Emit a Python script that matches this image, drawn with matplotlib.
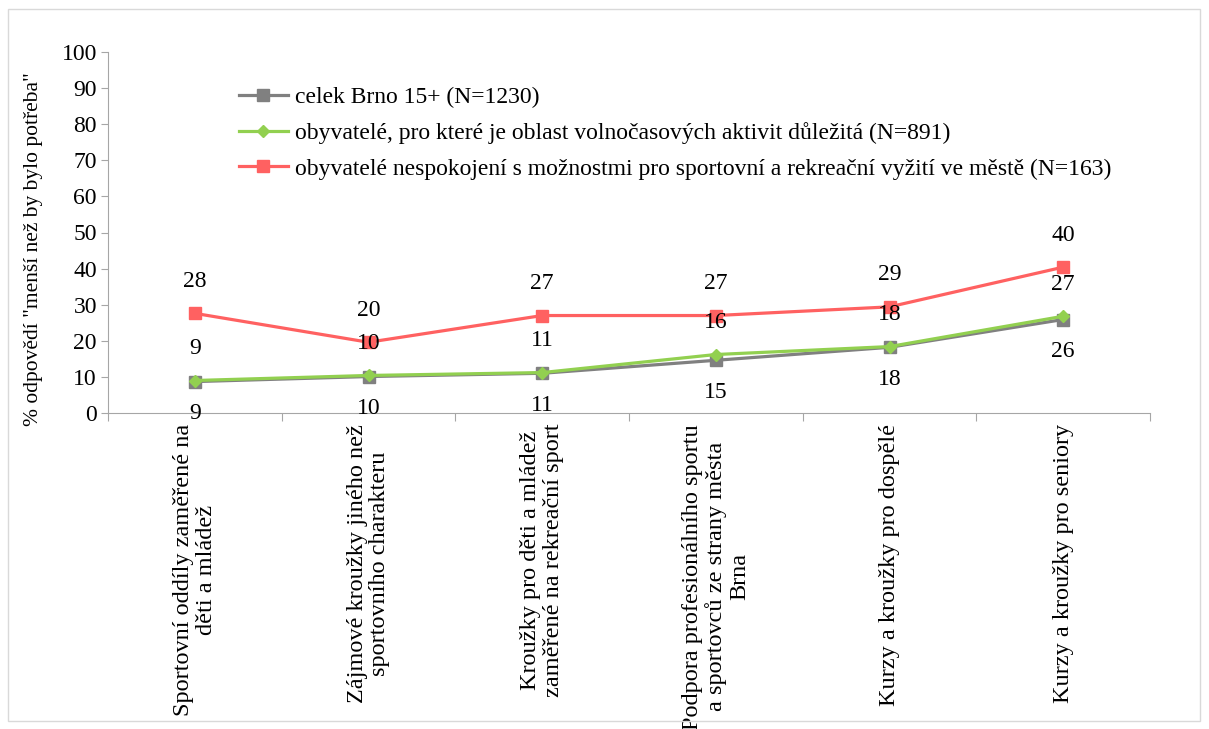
import matplotlib.pyplot as plt
from matplotlib.patches import Rectangle

plt.rcParams['font.family'] = ['Liberation Serif', 'DejaVu Serif']

categories = ['Sportovní oddíly zaměřené na\nděti a mládež',
              'Zájmové kroužky jiného než\nsportovního charakteru',
              'Kroužky pro děti a mládež\nzaměřené na rekreační sport',
              'Podpora profesionálního sportu\na sportovců ze strany města\nBrna',
              'Kurzy a kroužky pro dospělé',
              'Kurzy a kroužky pro seniory']
celek = [8.7, 10.1, 11.0, 14.6, 18.2, 25.9]
dulezita = [9.0, 10.4, 11.2, 16.2, 18.4, 26.8]
nespokojeni = [27.6, 19.6, 27.0, 27.0, 29.4, 40.4]
names = ['celek Brno 15+ (N=1230)',
         'obyvatelé, pro které je oblast volnočasových aktivit důležitá (N=891)',
         'obyvatelé nespokojení s možnostmi pro sportovní a rekreační vyžití ve městě (N=163)']

fs = 17
fig = plt.figure(figsize=(12.09, 7.29), dpi=100)
fig.patches.append(Rectangle((8/1209, 8/729), 1192/1209, 712/729, transform=fig.transFigure,
                             fill=False, edgecolor='#d9d9d9', lw=1))
ax = fig.add_axes([108/1209, 1-413/729, 1042/1209, 361/729])

x = list(range(len(categories)))
ax.plot(x, celek, color='#808080', lw=2.3, marker='s', ms=8, label=names[0])
ax.plot(x, dulezita, color='#92d050', lw=2.3, marker='D', ms=6.5, label=names[1])
ax.plot(x, nespokojeni, color='#ff6161', lw=2.3, marker='s', ms=8.5, label=names[2])

for i in x:
    ax.annotate('%d' % round(celek[i]), (i, celek[i]), xytext=(0, -23), textcoords='offset points',
                ha='center', va='center', fontsize=fs)
    ax.annotate('%d' % round(dulezita[i]), (i, dulezita[i]), xytext=(0, 23), textcoords='offset points',
                ha='center', va='center', fontsize=fs)
    ax.annotate('%d' % round(nespokojeni[i]), (i, nespokojeni[i]), xytext=(0, 23), textcoords='offset points',
                ha='center', va='center', fontsize=fs)

ax.set_xlim(-0.5, len(categories) - 0.5)
ax.set_ylim(0, 100)
ax.set_yticks(range(0, 101, 10))
ax.tick_params(axis='y', labelsize=fs, direction='out', length=5, color='#a6a6a6', pad=3)
ax.set_xticks([i - 0.5 for i in range(len(categories) + 1)])
ax.set_xticklabels([])
ax.tick_params(axis='x', direction='out', length=6, color='#a6a6a6')
for i, c in enumerate(categories):
    ax.text(i, -3, c, rotation=90, ha='center', va='top', multialignment='center',
            fontsize=17.5, linespacing=1.12, transform=ax.transData, clip_on=False)

for s in ['top', 'right']:
    ax.spines[s].set_visible(False)
for s in ['left', 'bottom']:
    ax.spines[s].set_color('#a6a6a6')

ax.set_ylabel('% odpovědí "menší než by bylo potřeba"', fontsize=15.5)
ax.yaxis.set_label_coords(-0.062, 0.455)

ax.legend(loc='upper left', bbox_to_anchor=(0.105, 0.964), frameon=False, fontsize=fs,
          handlelength=2.1, handletextpad=0.3, labelspacing=0.6)

fig.savefig('out.png', dpi=100)
